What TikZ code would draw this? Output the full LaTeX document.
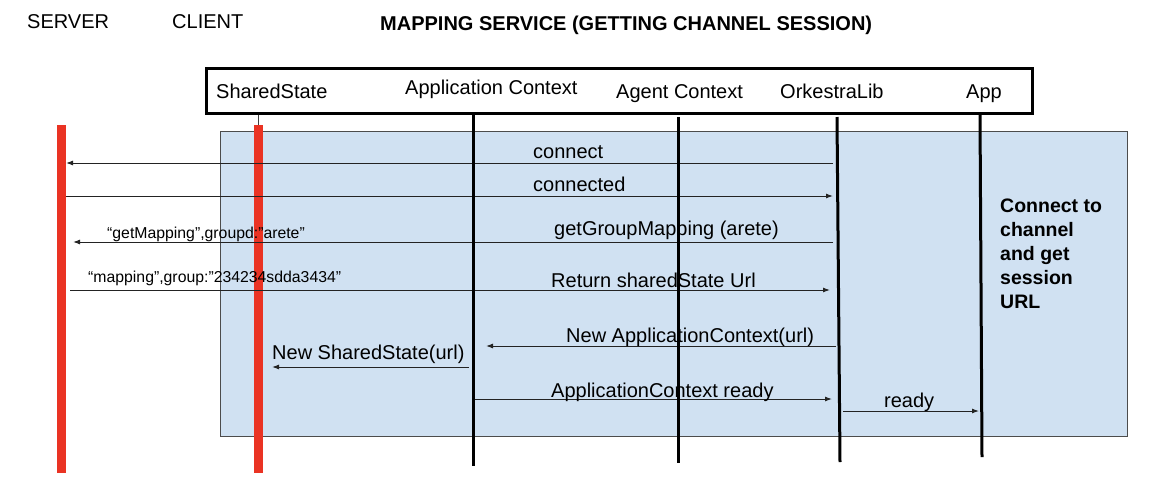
\documentclass[tikz,border=0pt]{standalone}
\usepackage{fontspec}
\setmainfont{Liberation Sans}
\usetikzlibrary{arrows.meta}
\definecolor{bluefill}{RGB}{208,225,242}
\definecolor{redbar}{RGB}{234,51,35}
\definecolor{msgline}{RGB}{35,35,35}
\tikzset{
  lbl/.style={inner sep=0pt, anchor=base west, font=\fontsize{20}{24}\selectfont},
  boldlbl/.style={inner sep=0pt, anchor=base west, font=\fontsize{19.5}{24}\selectfont\bfseries},
  smalllbl/.style={inner sep=0pt, anchor=base west, font=\fontsize{15.8}{19}\selectfont},
  msg/.style={draw=msgline, line width=1pt, -{Latex[length=7pt,width=5pt]}},
  life/.style={line width=3pt, black},
  redlife/.style={line width=9pt, redbar},
}
\begin{document}
\begin{tikzpicture}[x=1pt,y=-1pt]
\useasboundingbox (0,0) rectangle (1156,488);

% background panel
\filldraw[fill=bluefill, draw=black!70, line width=1pt] (220,131) rectangle (1127,436);

% red lifelines
\coordinate (srvtop) at (61,125);
\coordinate (srvbot) at (61,473);
\coordinate (clitop) at (258,125);
\coordinate (clibot) at (258,473);
\coordinate (shbox) at (258,113);
\draw[redlife] (srvtop) -- (srvbot);
\draw[redlife] (clitop) -- (clibot);
\draw[draw=black!75, line width=1pt] (shbox) -- (clitop);

% top labels
\node[lbl] (server) at (27,28) {SERVER};
\node[lbl] (client) at (172,28) {CLIENT};
\node[boldlbl, font=\fontsize{20}{24}\selectfont\bfseries] (title) at (380,30) {MAPPING SERVICE (GETTING CHANNEL SESSION)};

% message endpoints
\coordinate (m1a) at (833,163); \coordinate (m1b) at (66,163);
\coordinate (m2a) at (66,196);  \coordinate (m2b) at (833,196);
\coordinate (m3a) at (833,242); \coordinate (m3b) at (73,242);
\coordinate (m4a) at (70,290);  \coordinate (m4b) at (830,290);
\coordinate (m5a) at (836,346); \coordinate (m5b) at (486,346);
\coordinate (m6a) at (469,367); \coordinate (m6b) at (272,367);
\coordinate (m7a) at (475,399); \coordinate (m7b) at (832,399);
\coordinate (m8a) at (843,411); \coordinate (m8b) at (979,411);

\draw[msg] (m1a) -- (m1b);
\draw[msg] (m2a) -- (m2b);
\draw[msg] (m3a) -- (m3b);
\draw[msg] (m4a) -- (m4b);
\draw[msg] (m5a) -- (m5b);
\draw[msg] (m6a) -- (m6b);
\draw[msg] (m7a) -- (m7b);
\draw[msg] (m8a) -- (m8b);

% message labels
\node[lbl] (t1) at (533,158) {connect};
\node[lbl] (t2) at (533,191) {connected};
\node[smalllbl] (t3s) at (107,238) {“getMapping",groupd:"arete"};
\node[lbl] (t3) at (554,235) {getGroupMapping (arete)};
\node[smalllbl] (t4s) at (88,282) {“mapping",group:"234234sdda3434"};
\node[lbl] (t4) at (551,287) {Return sharedState Url};
\node[lbl] (t5) at (566,342) {New ApplicationContext(url)};
\node[lbl] (t6) at (272,359) {New SharedState(url)};
\node[lbl] (t7) at (551,397) {ApplicationContext ready};
\node[lbl] (t8) at (884,407) {ready};

% side note
\node[boldlbl] (c1) at (1000,212) {Connect to};
\node[boldlbl] (c2) at (1000,236) {channel};
\node[boldlbl] (c3) at (1000,260) {and get};
\node[boldlbl] (c4) at (1000,284) {session};
\node[boldlbl] (c5) at (1000,308) {URL};

% lifelines
\coordinate (l1t) at (473,114); \coordinate (l1b) at (473,466);
\coordinate (l2t) at (678,117); \coordinate (l2b) at (678,463);
\coordinate (l3t) at (837,117); \coordinate (l3b) at (840,462);
\coordinate (l4t) at (980,114); \coordinate (l4b) at (982,457);
\draw[life] (l1t) -- (l1b);
\draw[life] (l2t) -- (l2b);
\draw[life] (l3t) -- (l3b);
\draw[life] (l4t) -- (l4b);

% header box
\filldraw[fill=white, draw=black, line width=3pt] (206.5,68.5) rectangle (1032.5,113);
\node[lbl] (h1) at (216,98) {SharedState};
\node[lbl] (h2) at (405,94) {Application Context};
\node[lbl] (h3) at (616,98) {Agent Context};
\node[lbl] (h4) at (780,98) {OrkestraLib};
\node[lbl] (h5) at (966,98) {App};
\end{tikzpicture}
\end{document}
